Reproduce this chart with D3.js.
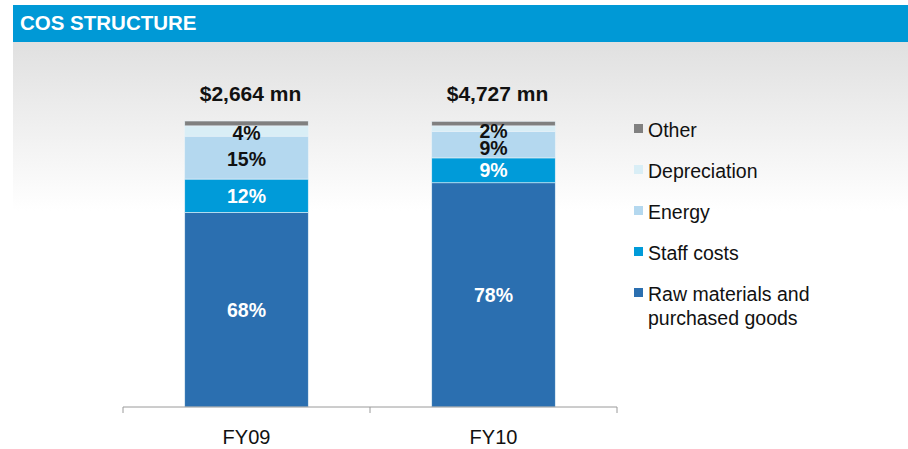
<!DOCTYPE html>
<html>
<head>
<meta charset="utf-8">
<script src="https://cdn.jsdelivr.net/npm/d3@7"></script>
<style>
  html, body { margin: 0; padding: 0; background: #fff; }
  svg { display: block; font-family: "Liberation Sans", Arial, sans-serif; }
</style>
</head>
<body>
<svg id="chart" width="908" height="449"></svg>
<script>
const years = ["FY09", "FY10"];
const totals = ["$2,664 mn", "$4,727 mn"];
const segmentNames = ["Raw materials and purchased goods", "Staff costs", "Energy", "Depreciation", "Other"];
const legendLines = [["Raw materials and", "purchased goods"], ["Staff costs"], ["Energy"], ["Depreciation"], ["Other"]];
// share of cost of sales, bottom to top
const fy09Shares = [68, 11.7, 15, 3.6, 1.7];
const fy10Shares = [78.4, 8.7, 9.3, 1.9, 1.6];
const fy09Labels = ["68%", "12%", "15%", "4%", ""];
const fy10Labels = ["78%", "9%", "9%", "2%", ""];

const colors = ["#2b6fb0", "#009bd9", "#b4d8ef", "#d9eef6", "#808080"];
const labelColors = ["#fff", "#fff", "#111", "#111", "#111"];

const svg = d3.select("#chart");
const axisY = 407, topY = 121;

// background gradient under the header
const defs = svg.append("defs");
const grad = defs.append("linearGradient").attr("id", "bg").attr("x1", 0).attr("x2", 0).attr("y1", 0).attr("y2", 1);
grad.append("stop").attr("offset", "0%").attr("stop-color", "#e0e0e0");
grad.append("stop").attr("offset", "100%").attr("stop-color", "#ffffff");
svg.append("rect").attr("x", 13).attr("y", 41).attr("width", 895).attr("height", 170).attr("fill", "url(#bg)");

// header
svg.append("rect").attr("x", 13).attr("y", 5).attr("width", 895).attr("height", 37).attr("fill", "#0099d6");
svg.append("text").attr("x", 20).attr("y", 30).attr("fill", "#fff")
  .attr("font-size", 20.5).attr("font-weight", "bold").text("COS STRUCTURE");

const x = d3.scaleBand().domain(years).range([123, 617]).paddingInner(0.5).paddingOuter(0.25);
const y = d3.scaleLinear().domain([0, 100]).range([axisY, topY]);

const rows = [fy09Shares, fy10Shares].map((shares, i) => {
  let acc = 0;
  return shares.map((v, k) => {
    const seg = { year: years[i], k, y0: acc, y1: acc + v, label: (i === 0 ? fy09Labels : fy10Labels)[k] };
    acc += v;
    return seg;
  });
});
const segs = rows.flat();

svg.append("g").selectAll("rect").data(segs).join("rect")
  .attr("x", d => x(d.year))
  .attr("y", d => y(d.y1))
  .attr("width", x.bandwidth())
  .attr("height", d => y(d.y0) - y(d.y1))
  .attr("fill", d => colors[d.k])
  .attr("stroke", "#e8f2f8").attr("stroke-width", 0.6);

// nudge for the small top labels so they don't collide
const labelShift = [0, 0, 1, 2, 0];
svg.append("g").selectAll("text").data(segs.filter(d => d.label)).join("text")
  .attr("x", d => x(d.year) + x.bandwidth() / 2)
  .attr("y", d => (y(d.y0) + y(d.y1)) / 2 + labelShift[d.k] + (d.year === "FY10" && d.k === 2 ? 2 : 0))
  .attr("dy", "0.36em")
  .attr("text-anchor", "middle")
  .attr("font-size", 19.5).attr("font-weight", "bold")
  .attr("fill", d => labelColors[d.k])
  .text(d => d.label);

// totals above bars
svg.append("g").selectAll("text").data(years).join("text")
  .attr("x", d => x(d) + x.bandwidth() / 2 + 4)
  .attr("y", 93).attr("dy", "0.36em")
  .attr("text-anchor", "middle")
  .attr("font-size", 21).attr("font-weight", "bold").attr("fill", "#111")
  .text((d, i) => totals[i]);

// x axis with ticks on category boundaries
const axis = svg.append("g").attr("transform", `translate(0,${axisY})`)
  .call(d3.axisBottom(x).tickSize(0).tickPadding(23));
axis.select(".domain").attr("stroke", "#9a9a9a").attr("d", "M123,0H617");
axis.selectAll("text").attr("font-size", 20).attr("fill", "#111")
  .attr("font-family", "Liberation Sans, Arial, sans-serif");
const bounds = [x.range()[0], x.range()[0] + x.step(), x.range()[1]];
axis.selectAll("line.bound").data(bounds).join("line").attr("class", "bound")
  .attr("x1", d => d).attr("x2", d => d).attr("y1", 0).attr("y2", 6)
  .attr("stroke", "#9a9a9a");

// legend, top to bottom
const legendOrder = [4, 3, 2, 1, 0];
const legend = svg.append("g");
legendOrder.forEach((k, i) => {
  const cy = 130 + i * 41;
  legend.append("rect").attr("x", 634).attr("y", cy - 6).attr("width", 9).attr("height", 9).attr("fill", colors[k]);
  const t = legend.append("text").attr("x", 648).attr("y", cy)
    .attr("font-size", 19.5).attr("fill", "#111");
  legendLines[k].forEach((line, j) => {
    t.append("tspan").attr("x", 648).attr("dy", j === 0 ? "0.36em" : "1.23em").text(line);
  });
});
</script>
</body>
</html>
